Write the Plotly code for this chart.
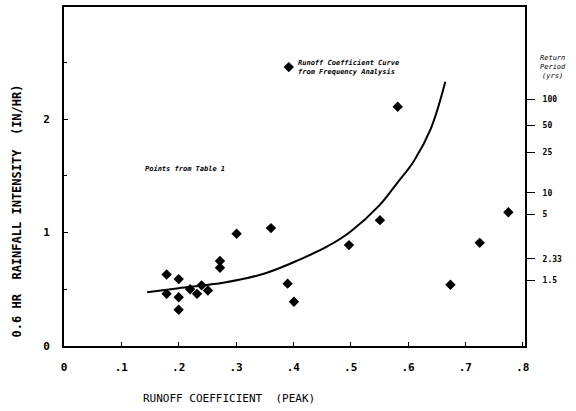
import plotly.graph_objects as go

# Observed storms: peak runoff coefficient vs 0.6-hr rainfall intensity
runoff_coef = [0.179, 0.200, 0.179, 0.200, 0.200, 0.220, 0.232, 0.240, 0.251,
               0.272, 0.272, 0.301, 0.361, 0.390, 0.401, 0.497, 0.551, 0.582,
               0.674, 0.725, 0.775, 0.392]
intensity = [0.63, 0.59, 0.46, 0.43, 0.32, 0.50, 0.46, 0.535, 0.49,
             0.75, 0.69, 0.99, 1.04, 0.55, 0.39, 0.89, 1.11, 2.11,
             0.54, 0.91, 1.18, 2.46]

# Runoff coefficient curve derived from frequency analysis
curve_c = [0.145, 0.20, 0.28, 0.35, 0.41, 0.46, 0.50, 0.55, 0.58, 0.61, 0.64, 0.665]
curve_i = [0.475, 0.51, 0.56, 0.64, 0.76, 0.88, 1.01, 1.24, 1.43, 1.63, 1.92, 2.33]

# Return period scale (yrs) and the intensity each corresponds to
return_labels = ["100", "50", "25", "10", "5", "2.33", "1.5"]
return_intensity = [2.175, 1.947, 1.71, 1.35, 1.16, 0.77, 0.58]

x_ticks = [0, 0.1, 0.2, 0.3, 0.4, 0.5, 0.6, 0.7, 0.8]
x_tick_text = ["0", ".1", ".2", ".3", ".4", ".5", ".6", ".7", ".8"]
y_ticks = [0, 1, 2]

MONO = "DejaVu Sans Mono"

fig = go.Figure()
fig.add_trace(go.Scatter(
    x=curve_c, y=curve_i, mode="lines",
    line=dict(color="black", width=2, shape="spline", smoothing=1.0),
    showlegend=False, hoverinfo="skip"))
fig.add_trace(go.Scatter(
    x=runoff_coef, y=intensity, mode="markers",
    marker=dict(symbol="diamond", size=8, color="black"),
    showlegend=False))
# invisible trace to carry the return-period axis
fig.add_trace(go.Scatter(
    x=[0, 0], y=[0, 0], yaxis="y2", mode="markers",
    marker=dict(opacity=0), showlegend=False, hoverinfo="skip"))

fig.update_layout(
    width=576, height=411,
    margin=dict(l=64, r=51, t=5, b=65),
    plot_bgcolor="white", paper_bgcolor="white",
    font=dict(family=MONO, color="black"),
    xaxis=dict(range=[0, 0.804], tickvals=x_ticks, ticktext=x_tick_text,
               showgrid=False, zeroline=False, showline=True, mirror=True,
               linecolor="black", linewidth=2, ticks="inside", ticklen=4,
               tickcolor="black", tickfont=dict(family=MONO, size=11, weight="bold"),
               ticklabelstandoff=10),
    yaxis=dict(range=[0, 2.99], tickvals=y_ticks,
               showgrid=False, zeroline=False, showline=True, mirror=True,
               linecolor="black", linewidth=2, ticks="inside", ticklen=4,
               tickcolor="black", tickfont=dict(family=MONO, size=11, weight="bold"),
               ticklabelstandoff=10,
               minor=dict(tickvals=[0.5, 1.5, 2.5], ticks="inside", ticklen=3,
                          tickcolor="black")),
    yaxis2=dict(range=[0, 2.99], overlaying="y", side="right",
                tickvals=return_intensity, ticktext=return_labels,
                showgrid=False, zeroline=False, showline=False,
                ticks="outside", ticklen=9, tickcolor="black", tickwidth=1,
                tickfont=dict(family=MONO, size=8, weight="bold"),
                ticklabelstandoff=6),
)

fig.add_annotation(
    text="RUNOFF COEFFICIENT  (PEAK)",
    xref="paper", yref="paper", x=0.358, y=-0.155, xanchor="center", yanchor="middle",
    showarrow=False, font=dict(family=MONO, size=11))
fig.add_annotation(
    text="0.6 HR  RAINFALL INTENSITY  (IN/HR)",
    xref="paper", yref="paper", x=-0.102, y=0.40, xanchor="center", yanchor="middle",
    textangle=-90, showarrow=False, font=dict(family=MONO, size=12, weight="bold"))
fig.add_annotation(
    text="Points from Table 1", x=0.211, y=1.56, xanchor="center", yanchor="middle",
    showarrow=False, font=dict(family=MONO, size=7, weight="bold", style="italic"))
fig.add_annotation(
    text="Runoff Coefficient Curve<br>from Frequency Analysis", x=0.404, y=2.46,
    xanchor="left", yanchor="middle", align="left", showarrow=False,
    font=dict(family=MONO, size=7, weight="bold", style="italic"))
fig.add_annotation(
    text="Return<br>Period<br>(yrs)", xref="paper", yref="paper", x=1.061, y=0.824,
    xanchor="center", yanchor="middle", align="center", showarrow=False,
    font=dict(family=MONO, size=7, style="italic"))

fig.write_html("out.html")
